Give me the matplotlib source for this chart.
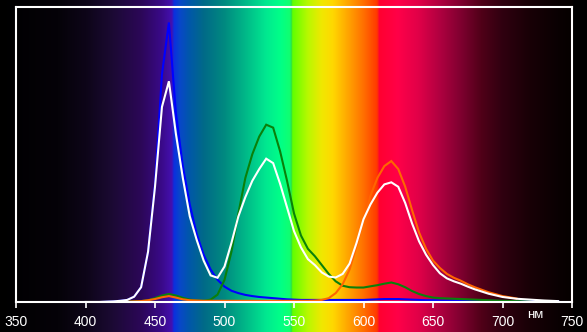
import matplotlib.pyplot as plt
import numpy as np
from matplotlib.colors import LinearSegmentedColormap

# ============================================================================
# DATOS: espectro de emisión (intensidad relativa) por longitud de onda, nm
# ============================================================================
nan = np.nan

wl = [400, 410, 420, 425, 430, 435, 440, 445, 450, 455, 460, 465, 470, 475,
      480, 485, 490, 495, 500, 505, 510, 515, 520, 525, 530, 535, 540, 545,
      550, 555, 560, 565, 570, 575, 580, 585, 590, 595, 600, 605, 610, 615,
      620, 625, 630, 635, 640, 645, 650, 655, 660, 665, 670, 675, 680, 690,
      700, 710, 720, 730, 740]

white = [0.0, 0.0, 0.002, 0.004, 0.007, 0.018, 0.05, 0.17, 0.39, 0.66, 0.747,
         0.57, 0.42, 0.29, 0.21, 0.14, 0.09, 0.082, 0.12, 0.20, 0.29, 0.355,
         0.41, 0.45, 0.485, 0.47, 0.40, 0.32, 0.24, 0.185, 0.145, 0.125, 0.10,
         0.086, 0.083, 0.095, 0.13, 0.20, 0.28, 0.33, 0.37, 0.398, 0.405, 0.39,
         0.335, 0.265, 0.205, 0.16, 0.125, 0.097, 0.08, 0.07, 0.062, 0.052,
         0.043, 0.028, 0.017, 0.011, 0.008, 0.005, 0.003]

blue = [0.0, 0.0, 0.002, 0.004, 0.007, 0.018, 0.05, 0.17, 0.40, 0.77, 0.946,
        0.64, 0.46, 0.33, 0.23, 0.16, 0.11, 0.075, 0.052, 0.038, 0.03, 0.024,
        0.02, 0.017, 0.015, 0.013, 0.011, 0.009, 0.008, 0.007, 0.007, 0.007,
        0.007, 0.007, 0.007, 0.007, 0.007, 0.007, 0.007, 0.008, 0.009, 0.01,
        0.01, 0.01, 0.009, 0.008, 0.007, 0.006, 0.006, 0.005, 0.005, 0.005,
        0.004, 0.004, 0.004, 0.004, 0.003, 0.003, 0.003, 0.003, 0.003]

green = [0.0, 0.0, 0.0, 0.0, 0.001, 0.002, 0.003, 0.006, 0.013, 0.022, 0.027,
         0.022, 0.014, 0.008, 0.005, 0.004, 0.008, 0.025, 0.075, 0.17, 0.30,
         0.42, 0.50, 0.56, 0.60, 0.59, 0.51, 0.41, 0.30, 0.225, 0.18, 0.155,
         0.125, 0.095, 0.07, 0.055, 0.05, 0.049, 0.049, 0.053, 0.057, 0.062,
         0.066, 0.06, 0.05, 0.037, 0.027, 0.02, 0.015, 0.013, 0.012, 0.011,
         0.01, 0.009, 0.008, 0.006, 0.004, 0.003, 0.002, nan, nan]

red = [0.0, 0.0, 0.0, 0.0, 0.001, 0.002, 0.003, 0.006, 0.01, 0.016, 0.02,
       0.015, 0.009, 0.006, 0.005, 0.004, 0.004, 0.004, 0.004, 0.004, 0.004,
       0.004, 0.004, 0.004, 0.004, 0.004, 0.004, 0.004, 0.004, 0.004, 0.004,
       0.005, 0.007, 0.013, 0.03, 0.06, 0.11, 0.19, 0.275, 0.36, 0.42, 0.46,
       0.477, 0.45, 0.39, 0.31, 0.235, 0.18, 0.14, 0.115, 0.095, 0.082,
       0.072, 0.06, 0.05, 0.033, 0.02, 0.012, nan, nan, nan]

ticks = [350, 400, 450, 500, 550, 600, 650, 700, 750]

# colores del fondo (espectro visible)
spec_nm = [338, 380, 400, 420, 440, 455, 462, 463.5, 468, 475, 485, 500, 515,
           530, 540, 547, 548.3, 549, 560, 570, 578, 590, 600, 610, 611.5,
           625, 640, 655, 670, 685, 700, 720, 740, 750, 752, 762]
spec_col = ['#000000', '#050208', '#0d0518', '#1c0a35', '#2c0758', '#3a0a8a',
            '#4410b0', '#0a30e0', '#0848c8', '#0058a8', '#006a88', '#008a80',
            '#00b888', '#00e890', '#00ff88', '#10ff70', '#30e040', '#60ff00',
            '#b8f800', '#f0e800', '#ffd800', '#ffa000', '#ff7000', '#ff3800',
            '#ff0030', '#ff0048', '#e00048', '#b00040', '#800030', '#500018',
            '#300010', '#180006', '#0a0002', '#050000', '#000000', '#000000']

# ============================================================================
# FIGURA
# ============================================================================
W, H = 587, 332
fig = plt.figure(figsize=(W / 100, H / 100), dpi=100, facecolor='black')

x0, x1 = 16, 572          # píxeles de 350 y 750 nm
ytop, ybot = 6.5, 302     # píxeles del marco
px_per_nm = (x1 - x0) / 400.0
nm_left = 350 - x0 / px_per_nm
nm_right = 350 + (W - x0) / px_per_nm

# fondo con el espectro
bg = fig.add_axes([0, 0, 1, 1])
pos = [(n - spec_nm[0]) / (spec_nm[-1] - spec_nm[0]) for n in spec_nm]
cmap = LinearSegmentedColormap.from_list('espectro', list(zip(pos, spec_col)), N=1024)
grid = np.linspace(nm_left, nm_right, 1400)
vals = (grid - spec_nm[0]) / (spec_nm[-1] - spec_nm[0])
bg.imshow(vals[np.newaxis, :], cmap=cmap, vmin=0, vmax=1, aspect='auto',
          extent=[nm_left, nm_right, 0, 1], interpolation='bilinear')
bg.set_xlim(nm_left, nm_right)
bg.axis('off')

# ejes del gráfico
ax = fig.add_axes([x0 / W, (H - ybot) / H, (x1 - x0) / W, (ybot - ytop) / H])
ax.patch.set_alpha(0)
ax.set_xlim(350, 750)
ax.set_ylim(0, 1)

ax.plot(wl, blue, color='#0000ff', lw=1.5, solid_joinstyle='miter')
ax.plot(wl, green, color='#0a800a', lw=1.5, solid_joinstyle='miter')
ax.plot(wl, red, color='#ff6600', lw=1.5, solid_joinstyle='miter')
ax.plot(wl, white, color='white', lw=1.5, solid_joinstyle='miter')

for s in ax.spines.values():
    s.set_color('white')
    s.set_linewidth(1.5)

ax.set_xticks(ticks)
ax.set_yticks([])
ax.tick_params(axis='x', colors='white', length=4, width=1.2, pad=5,
               labelsize=10, labelcolor='white')
for lab in ax.get_xticklabels():
    lab.set_fontfamily('Liberation Sans')

fig.text(535 / W, 1 - 315.5 / H, 'нм', color='white', fontsize=9.5,
         ha='center', va='center', family='Liberation Sans')

plt.savefig('out.png', dpi=100, facecolor='black')
